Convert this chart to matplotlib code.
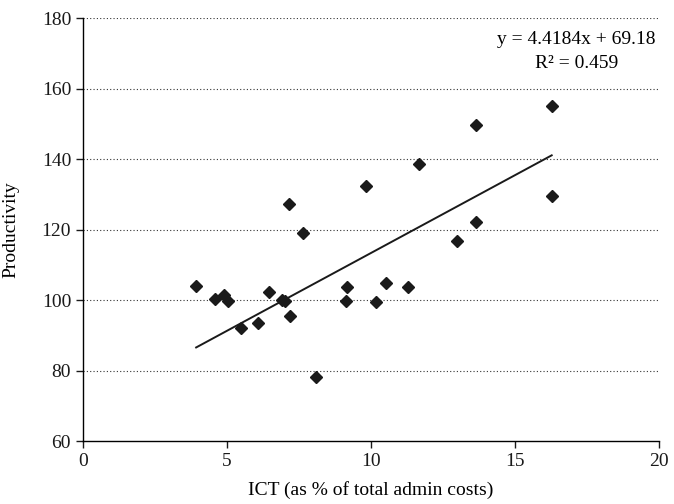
import numpy as np
import matplotlib
matplotlib.use("Agg")
import matplotlib.pyplot as plt

# ICT share vs productivity
ict_share = [3.93, 4.58, 4.89, 5.04, 5.48, 6.08, 6.46, 6.90, 7.00, 7.17,
             7.20, 7.64, 8.09, 9.12, 9.18, 9.84, 10.18, 10.52, 11.28, 11.65,
             12.98, 13.64, 13.64, 16.27, 16.27]
productivity = [104.0, 100.3, 101.3, 99.7, 92.0, 93.6, 102.2, 100.1, 99.8, 127.3,
                95.4, 119.1, 78.2, 99.7, 103.8, 132.5, 99.5, 104.8, 103.6, 138.5,
                116.7, 149.6, 122.1, 155.2, 129.5]

slope = 4.4184
intercept = 69.18
r_squared = 0.459

x_ticks = [0, 5, 10, 15, 20]
y_ticks = [60, 80, 100, 120, 140, 160, 180]

plt.rcParams['font.family'] = ['Liberation Serif', 'DejaVu Serif']
plt.rcParams['font.size'] = 14

fig = plt.figure(figsize=(6.74, 5.04), dpi=100)
ax = fig.add_axes([0.123, 0.125, 0.855, 0.839])

ax.plot(ict_share, productivity, linestyle='none', marker='D',
        markersize=6, color='#1a1a1a', zorder=3)

# linear trend over the observed range
x_fit = np.array([min(ict_share), max(ict_share)])
ax.plot(x_fit, slope * x_fit + intercept, color='#1a1a1a', linewidth=1.4, zorder=2)

ax.set_xlim(0, 20)
ax.set_ylim(60, 180)
ax.set_xticks(x_ticks)
ax.set_yticks(y_ticks)

for yv in y_ticks[1:]:
    ax.axhline(yv, color='#333333', linestyle=(0, (1, 2)), linewidth=0.8, zorder=1)

ax.spines['top'].set_visible(False)
ax.spines['right'].set_visible(False)
ax.spines['left'].set_linewidth(1.0)
ax.spines['bottom'].set_linewidth(1.0)
ax.tick_params(direction='out', length=5, width=1.0, colors='#1a1a1a')

ax.set_xlabel('ICT (as % of total admin costs)', labelpad=8)
ax.set_ylabel('Productivity', labelpad=16)

ax.text(19.86, 173.8, 'y = 4.4184x + 69.18', ha='right', va='center')
ax.text(17.15, 167.2, f'R\u00b2 = {r_squared}', ha='center', va='center')

fig.savefig('out.png', dpi=100)
